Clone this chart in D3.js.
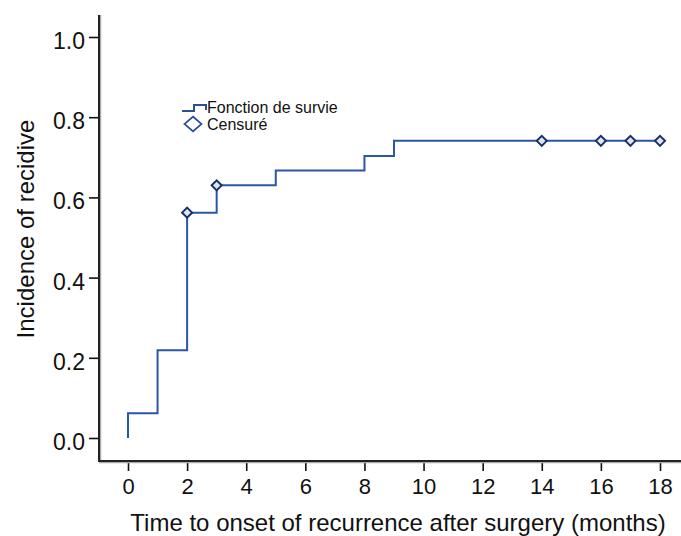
<!DOCTYPE html>
<html>
<head>
<meta charset="utf-8">
<script src="https://cdn.jsdelivr.net/npm/d3@7"></script>
<style>
body { margin: 0; background: #fff; }
text { font-family: "Liberation Sans", Arial, sans-serif; fill: #111; }
</style>
</head>
<body>
<svg id="chart" width="681" height="536"></svg>
<script>
// step function (time in months, incidence)
var stepTimes = [0, 1, 2, 3, 5, 8, 9, 18];
var stepValues = [0.062, 0.219, 0.562, 0.630, 0.667, 0.703, 0.741, 0.741];
// censored observations
var censorTimes = [2, 3, 14, 16, 17, 18];
var censorValues = [0.562, 0.630, 0.741, 0.741, 0.741, 0.741];
var xTicks = [0, 2, 4, 6, 8, 10, 12, 14, 16, 18];
var yTicks = [0, 0.2, 0.4, 0.6, 0.8, 1.0];

var svg = d3.select("#chart");

var x = d3.scaleLinear().domain([0, 18]).range([128, 660]);
var y = d3.scaleLinear().domain([0, 1]).range([438, 37]);

// axes frame
var axisLeftX = 99, axisBottomY = 461;

var yAxis = d3.axisLeft(y).tickValues(yTicks).tickFormat(d3.format(".1f")).tickSize(10).tickPadding(4);
var gy = svg.append("g").attr("transform", "translate(" + axisLeftX + ",0)").call(yAxis);
gy.select(".domain").remove();
gy.selectAll(".tick line").attr("stroke", "#111").attr("stroke-width", 1.6);
gy.selectAll(".tick text").style("font-size", "23px").attr("dy", "0.5em");

var xAxis = d3.axisBottom(x).tickValues(xTicks).tickSize(10).tickPadding(7);
var gx = svg.append("g").attr("transform", "translate(0," + axisBottomY + ")").call(xAxis);
gx.select(".domain").remove();
gx.selectAll(".tick line").attr("stroke", "#111").attr("stroke-width", 1.6);
gx.selectAll(".tick text").style("font-size", "22px");

// axis lines with light shadow
svg.append("line").attr("x1", axisLeftX + 1.5).attr("x2", axisLeftX + 1.5).attr("y1", 15).attr("y2", axisBottomY + 1.5)
    .attr("stroke", "#aaa").attr("stroke-width", 1.5);
svg.append("line").attr("x1", axisLeftX).attr("x2", 681).attr("y1", axisBottomY + 1.5).attr("y2", axisBottomY + 1.5)
    .attr("stroke", "#aaa").attr("stroke-width", 1.5);
svg.append("line").attr("x1", axisLeftX).attr("x2", axisLeftX).attr("y1", 15).attr("y2", axisBottomY)
    .attr("stroke", "#222").attr("stroke-width", 2);
svg.append("line").attr("x1", axisLeftX - 1).attr("x2", 681).attr("y1", axisBottomY).attr("y2", axisBottomY)
    .attr("stroke", "#222").attr("stroke-width", 2);

// step line
var pts = [[0, 0]];
stepTimes.forEach(function (t, i) { pts.push([t, stepValues[i]]); });
var line = d3.line()
    .x(function (d) { return x(d[0]); })
    .y(function (d) { return y(d[1]); })
    .curve(d3.curveStepAfter);
svg.append("path")
    .attr("d", line(pts))
    .attr("fill", "none")
    .attr("stroke", "#2b56a8")
    .attr("stroke-width", 2);

// censor markers
var diamond = d3.symbol().type(d3.symbolDiamond2).size(64);
svg.selectAll(".cens")
    .data(censorTimes)
    .enter()
    .append("path")
    .attr("class", "cens")
    .attr("d", diamond)
    .attr("transform", function (d, i) { return "translate(" + x(d) + "," + y(censorValues[i]) + ")"; })
    .attr("fill", "#dce6f5")
    .attr("stroke", "#1b2f66")
    .attr("stroke-width", 2);

// legend
svg.append("path")
    .attr("d", "M182,111 H194 V105 H206 V110")
    .attr("fill", "none").attr("stroke", "#2b4f9a").attr("stroke-width", 2);
svg.append("text").attr("x", 207).attr("y", 113).style("font-size", "16px").text("Fonction de survie");
svg.append("path")
    .attr("d", d3.symbol().type(d3.symbolDiamond2).size(150))
    .attr("transform", "translate(193,124) scale(1.1,0.95)")
    .attr("fill", "#fff").attr("stroke", "#2b4f9a").attr("stroke-width", 1.8);
svg.append("text").attr("x", 207).attr("y", 130).style("font-size", "16px").text("Censuré");

// axis titles
svg.append("text")
    .attr("transform", "translate(34,229) rotate(-90)")
    .attr("text-anchor", "middle")
    .style("font-size", "24px")
    .text("Incidence of recidive");
svg.append("text")
    .attr("x", 398).attr("y", 531)
    .attr("text-anchor", "middle")
    .style("font-size", "24px")
    .text("Time to onset of recurrence after surgery (months)");
</script>
</body>
</html>
